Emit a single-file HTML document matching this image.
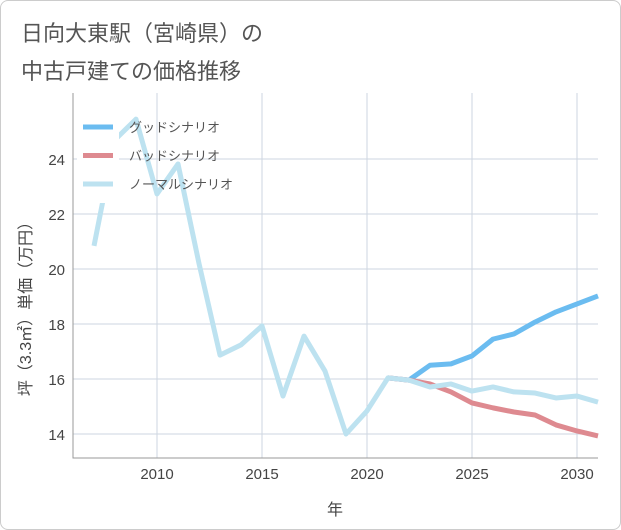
<!DOCTYPE html>
<html><head><meta charset="utf-8"><style>
body{margin:0;background:#fff;font-family:"Liberation Sans","Noto Sans CJK JP",sans-serif;}
#wrap{position:relative;width:619px;height:528px;border:1px solid #ccc;border-radius:8px;overflow:hidden;}
</style></head><body>
<div id="wrap">
<svg id="c" width="621" height="530"></svg>
</div>
<script>
const years=[2007,2008,2009,2010,2011,2012,2013,2014,2015,2016,2017,2018,2019,2020,2021,2022,2023,2024,2025,2026,2027,2028,2029,2030,2031];
const normal=[20.84,24.7,25.45,22.73,23.82,20.2,16.87,17.24,17.93,15.38,17.56,16.29,14.0,14.84,16.04,15.96,15.71,15.82,15.56,15.71,15.53,15.49,15.31,15.38,15.16];
const goodYears=[2021,2022,2023,2024,2025,2026,2027,2028,2029,2030,2031];
const good=[16.04,15.96,16.5,16.55,16.84,17.45,17.64,18.07,18.44,18.73,19.02];
const bad=[16.04,15.96,15.82,15.53,15.13,14.95,14.8,14.69,14.33,14.11,13.93];
const xTicks=[2010,2015,2020,2025,2030];
const yTicks=[14,16,18,20,22,24];
const NS='http://www.w3.org/2000/svg';
const svg=document.getElementById('c');
const L=72,R=597,T=92,B=457;
const x=v=>156+(v-2010)*21;
const y=v=>433-(v-14)*27.5;
function el(t,a,p){const e=document.createElementNS(NS,t);for(const k in a)e.setAttribute(k,a[k]);(p||svg).appendChild(e);return e;}
function txt(s,a){const e=el('text',a);e.textContent=s;return e;}
const t1=txt('日向大東駅（宮崎県）の',{x:20,y:40,'font-size':22,fill:'#555'});

const t2=txt('中古戸建ての価格推移',{x:20,y:78,'font-size':22,fill:'#555'});

xTicks.forEach(v=>{const g=el('line',{x1:x(v),x2:x(v),y1:T,y2:B,stroke:'#cdd5e0','stroke-width':1});
const l=txt(v,{x:x(v),y:478,'font-size':15,fill:'#444','text-anchor':'middle'});});
yTicks.forEach(v=>{const g=el('line',{x1:L,x2:R,y1:y(v),y2:y(v),stroke:'#cdd5e0','stroke-width':1});
const l=txt(v,{x:64,y:y(v)+6,'font-size':15,fill:'#444','text-anchor':'end'});});
const ax=el('path',{d:`M${L} ${T}V${B}H${R}`,fill:'none',stroke:'#999','stroke-width':1});
function line(xs,vs,col,name){const p=el('polyline',{points:vs.map((v,i)=>x(xs[i])+','+y(v)).join(' '),fill:'none',stroke:col,'stroke-width':5,'stroke-linejoin':'round'});}
line(goodYears,good,'#6bbcf0','good-scenario-line');
line(goodYears,bad,'#de8a90','bad-scenario-line');
line(years,normal,'#bde2f0','normal-scenario-line');
const lb=el('rect',{x:76,y:110,width:42,height:92,fill:'#fff'});
[['グッドシナリオ','#6bbcf0'],['バッドシナリオ','#de8a90'],['ノーマルシナリオ','#bde2f0']].forEach((d,i)=>{const yy=126+i*28.5;
const s=el('line',{x1:82,x2:112,y1:yy,y2:yy,stroke:d[1],'stroke-width':5});
const t=txt(d[0],{x:128,y:yy+5,'font-size':13,fill:'#555'});});
const xt=txt('年',{x:334,y:514,'font-size':16,fill:'#444','text-anchor':'middle'});
const yt=txt('坪（3.3㎡）単価（万円）',{x:0,y:0,'font-size':16,fill:'#444','text-anchor':'middle',transform:'translate(30,304) rotate(-90)'});
</script>
</body></html>
